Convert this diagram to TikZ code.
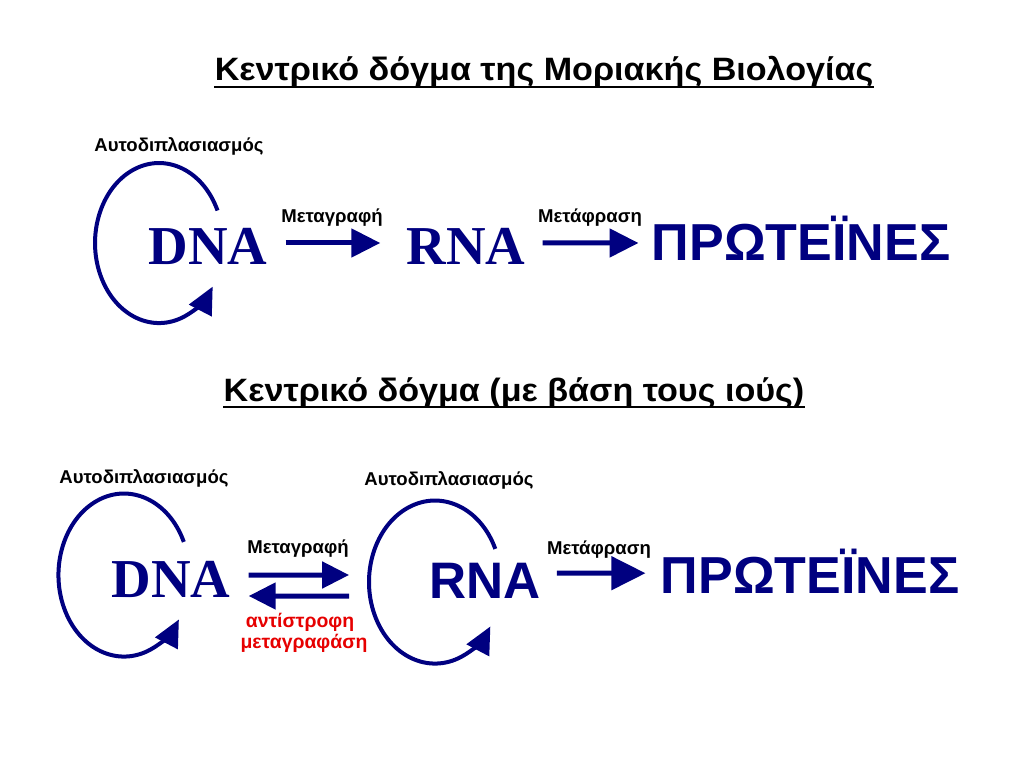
\documentclass[tikz,border=0pt]{standalone}
\usepackage{fontspec}
\setmainfont{Liberation Sans}
\newfontfamily\timesfont{Liberation Serif}
\usetikzlibrary{arrows.meta}
\definecolor{navy}{RGB}{0,0,128}
\definecolor{revred}{RGB}{230,0,0}
\newcommand\widen[1]{\scalebox{1.055}[1]{#1}}

\begin{document}
\begin{tikzpicture}[x=0.025cm,y=-0.025cm,
  every node/.style={inner sep=0pt,anchor=base},
  heading/.style={font=\fontsize{23}{27}\selectfont\bfseries},
  lbl/.style={font=\fontsize{13.2}{15}\selectfont\bfseries},
  revlbl/.style={font=\fontsize{13.8}{16}\selectfont\bfseries,text=revred},
  bigserif/.style={font=\fontsize{39}{44}\selectfont\timesfont\bfseries,text=navy},
  bigsans/.style={font=\fontsize{37}{42}\selectfont\bfseries,text=navy},
  flow/.style={line width=0.125cm,navy,-{Triangle[length=0.725cm,width=0.7cm]}},
  selfloop/.style={line width=0.1cm,navy,-{Triangle[length=0.675cm,width=0.62cm]}},
  uline/.style={line width=1.8pt}]
  \useasboundingbox (0,0) rectangle (1024,768);

  % top: central dogma
  \node[heading] (title1) at (544,81) {\widen{Κεντρικό δόγμα της Μοριακής Βιολογίας}};
  \draw[uline] ([yshift=-0.15cm]title1.base west) -- ([yshift=-0.15cm]title1.base east);

  \node[lbl] (dup1) at (179,152) {Αυτοδιπλασιασμός};
  \node[bigserif] (dna1) at (208,264) {DNA};
  \node[lbl] (tr1) at (332,222) {Μεταγραφή};
  \node[bigserif] (rna1) at (466,264) {RNA};
  \node[lbl] (tl1) at (590,222) {Μετάφραση};
  \node[bigsans] (prot1) at (801,260) {ΠΡΩΤΕΪΝΕΣ};

  \draw[selfloop] ([shift={(9.5,-53.5)}]dna1.base) arc[start angle=-24,end angle=-327,x radius=64,y radius=80];
  \draw[flow,shorten <=0.45cm,shorten >=0.65cm] ([yshift=0.525cm]dna1.base east) -- ([yshift=0.525cm]rna1.base west);
  \draw[flow,shorten <=0.425cm,shorten >=0.325cm] ([yshift=0.525cm]rna1.base east) -- ([yshift=0.425cm]prot1.base west);

  % bottom: viruses
  \node[heading] (title2) at (514,401) {\widen{Κεντρικό δόγμα (με βάση τους ιούς)}};
  \draw[uline] ([yshift=-0.15cm]title2.base west) -- ([yshift=-0.15cm]title2.base east);

  \node[lbl] (dup2) at (144,483) {Αυτοδιπλασιασμός};
  \node[bigserif] (dna2) at (171,597) {DNA};
  \node[lbl] (tr2) at (298,553) {Μεταγραφή};
  \node[revlbl] (rev1) at (300,627) {αντίστροφη};
  \node[revlbl] (rev2) at (304,648) {μεταγραφάση};
  \node[lbl] (dup3) at (449,485) {Αυτοδιπλασιασμός};
  \node[bigsans,font=\fontsize{36.5}{42}\selectfont\bfseries] (rna2) at (485,598) {RNA};
  \node[lbl] (tl2) at (599,554) {Μετάφραση};
  \node[bigsans] (prot2) at (810,593) {ΠΡΩΤΕΪΝΕΣ};

  \draw[selfloop] ([shift={(12.8,-55.1)}]dna2.base) arc[start angle=-24,end angle=-327,x radius=65.5,y radius=81.5];
  \draw[selfloop] ([shift={(10.3,-49.1)}]rna2.base) arc[start angle=-24,end angle=-327,x radius=66,y radius=81.5];
  \draw[flow,-{Triangle[length=0.675cm,width=0.65cm]},shorten <=0.45cm,shorten >=2cm] ([yshift=0.55cm]dna2.base east) -- ([yshift=0.575cm]rna2.base west);
  \draw[flow,-{Triangle[length=0.675cm,width=0.65cm]},shorten <=2cm,shorten >=0.45cm] ([yshift=0.05cm]rna2.base west) -- ([yshift=0.025cm]dna2.base east);
  \draw[flow,-{Triangle[length=0.85cm,width=0.82cm]},shorten <=0.4cm,shorten >=0.375cm] ([yshift=0.62cm]rna2.base east) -- ([yshift=0.495cm]prot2.base west);
\end{tikzpicture}
\end{document}
